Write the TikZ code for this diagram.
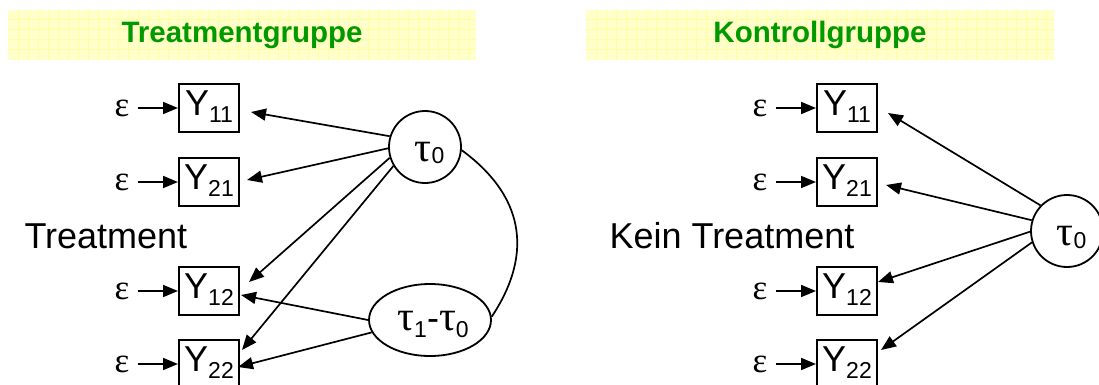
\documentclass[tikz,border=0pt]{standalone}
\usepackage{fontspec}
\setmainfont{Liberation Sans}
\newfontfamily\greekfont{Liberation Serif}
\usetikzlibrary{arrows.meta,shapes.geometric}

\definecolor{titlegreen}{RGB}{0,153,0}
\definecolor{bannerfill}{RGB}{255,255,204}
\definecolor{bannergrid}{RGB}{255,255,160}

% observed variable label Y with a lowered index
\newcommand{\ysub}[1]{Y\raisebox{-7pt}{\fontsize{23}{23}\selectfont #1}}
% tau with a lowered index
\newcommand{\tauidx}[2]{{\greekfont\fontsize{42}{42}\selectfont τ}\raisebox{-#1}{\fontsize{23}{23}\selectfont #2}}

\begin{document}
\begin{tikzpicture}[x=1pt,y=-1pt,
  obs/.style={draw, line width=2pt, minimum width=60pt, minimum height=48pt,
    inner sep=0pt, font=\fontsize{36}{36}\selectfont, text height=26pt, text depth=11pt},
  err/.style={font=\greekfont\fontsize{35}{35}\selectfont, inner xsep=8pt, inner ysep=0pt},
  lat/.style={draw, circle, line width=1.8pt, minimum size=72pt, inner sep=0pt,
    text height=28pt, text depth=0pt},
  latell/.style={draw, ellipse, line width=1.8pt, minimum width=122pt, minimum height=72pt,
    inner sep=0pt, text height=20pt, text depth=0pt},
  arr/.style={-{Triangle[length=15pt,width=12pt]}, line width=1.7pt},
  title/.style={font=\bfseries\fontsize{29.5}{31}\selectfont, text=titlegreen},
  lbl/.style={anchor=base west, font=\fontsize{36}{36}\selectfont}
]
\useasboundingbox (0,0) rectangle (1099,385);
\clip (0,0) rectangle (1099,385);

% title banners with a faint grid
\foreach \xa/\xb in {8/476, 586/1054} {
  \fill[bannerfill] (\xa,10) rectangle (\xb,60);
  \begin{scope}
    \clip (\xa,10) rectangle (\xb,60);
    \foreach \k in {1,...,47}
      \draw[bannergrid, line width=1pt] (\xa+10*\k,10) -- (\xa+10*\k,60);
    \foreach \yy in {20,30,40,50}
      \draw[bannergrid, line width=1pt] (\xa,\yy) -- (\xb,\yy);
  \end{scope}
}
\node[title] (titleL) at (242,35) {Treatmentgruppe};
\node[title] (titleR) at (820,35) {Kontrollgruppe};

% treatment group
\node[obs] (y11) at (209,108) {\ysub{11}};
\node[obs] (y21) at (209,182) {\ysub{21}};
\node[obs] (y12) at (209,291) {\ysub{12}};
\node[obs] (y22) at (209,364) {\ysub{22}};
\node[err] (e11) at (122,108) {ε};
\node[err] (e21) at (122,182) {ε};
\node[err] (e12) at (122,291) {ε};
\node[err] (e22) at (122,364) {ε};
\node[lbl] (treat) at (21,248) {Treatment};

\node[lat] (t0) at (425,147) {\hspace*{9pt}\tauidx{2pt}{0}};
\node[latell] (d10) at (430,320) {\hspace*{6pt}\tauidx{7pt}{1}{\fontsize{36}{36}\selectfont -}\tauidx{7pt}{0}};

\foreach \n in {11,21,12,22}
  \draw[arr] (e\n) -- (y\n);

\draw[arr] (t0.163) -- ([shift={(11,4)}]y11.east);
\draw[arr] (t0.182) -- ([shift={(7,-2)}]y21.east);
\draw[arr] (t0.197) -- ([shift={(9,-9)}]y12.east);
\draw[arr] (t0.211) -- ([shift={(2,-14)}]y22.east);
\draw[arr] (d10.180) -- ([shift={(1,4)}]y12.east);
\draw[arr] (d10.192) -- ([shift={(-2,3)}]y22.east);

\draw[line width=1.7pt] (t0.-5) .. controls +(68,50) and +(38,-57) .. (d10.3);

% control group
\node[obs] (k11) at (847,108) {\ysub{11}};
\node[obs] (k21) at (847,182) {\ysub{21}};
\node[obs] (k12) at (847,291) {\ysub{12}};
\node[obs] (k22) at (847,364) {\ysub{22}};
\node[err] (f11) at (760,108) {ε};
\node[err] (f21) at (760,182) {ε};
\node[err] (f12) at (760,291) {ε};
\node[err] (f22) at (760,364) {ε};
\node[lbl] (notreat) at (606,248) {Kein Treatment};

\node[lat] (k0) at (1067,231) {\hspace*{9pt}\tauidx{3pt}{0}};

\foreach \n in {11,21,12,22}
  \draw[arr] (f\n) -- (k\n);

\draw[arr] (k0.136) -- ([shift={(10,5)}]k11.east);
\draw[arr] (k0.163) -- ([shift={(8,3)}]k21.east);
\draw[arr] (k0.181) -- ([shift={(0,-9)}]k12.east);
\draw[arr] (k0.198) -- ([shift={(3,-14)}]k22.east);
\end{tikzpicture}
\end{document}
